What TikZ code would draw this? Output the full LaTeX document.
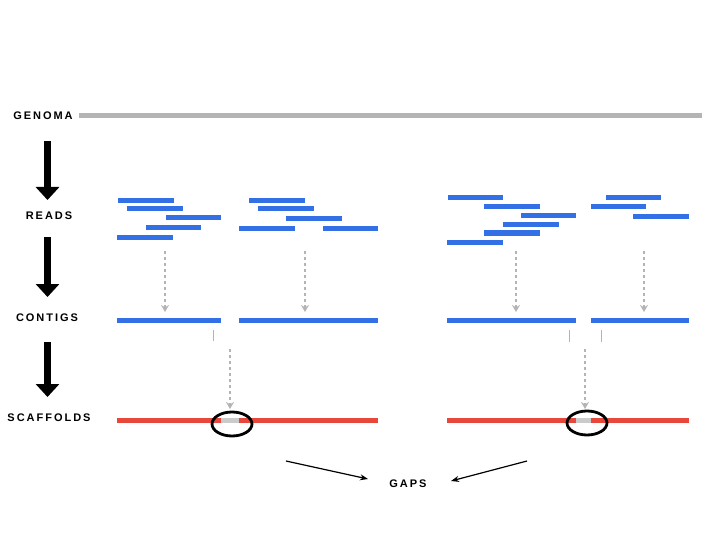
\documentclass[tikz,border=0pt]{standalone}
\usepackage{fontspec}
\setmainfont{Liberation Sans}
\newfontfamily\labfont[LetterSpace=18]{Liberation Sans}
\usetikzlibrary{arrows.meta}
\definecolor{rblue}{HTML}{3370E6}
\definecolor{rred}{HTML}{E8483C}
\definecolor{rgray}{HTML}{B4B4B4}
\definecolor{gapgray}{HTML}{CBCBCB}
\tikzset{
  lab/.style={font=\labfont\fontsize{11}{13}\selectfont\bfseries, inner sep=0pt},
  readbar/.style={draw=rblue, line width=5pt},
  scafbar/.style={draw=rred, line width=5pt},
  gapbar/.style={draw=gapgray, line width=5pt},
  bigarrow/.style={line width=6.5pt, -{Triangle[length=13pt,width=23pt]}},
  dasharrow/.style={draw=rgray, line width=1.3pt, dash pattern=on 3pt off 3pt, -{Stealth[length=7pt,width=8pt]}},
  tick/.style={draw=rgray, line width=0.9pt},
  gaparrow/.style={line width=1.2pt, -{Stealth[length=8pt,width=6pt]}},
  gapring/.style={draw=black, line width=2.8pt}
}
\begin{document}
\begin{tikzpicture}[x=1pt,y=-1pt]
\useasboundingbox (0,0) rectangle (720,540);
% labels
\node[lab] (genoma) at (43,116) {GENOMA};
\node[lab] (reads) at (49,216) {READS};
\node[lab] (contigs) at (47,318) {CONTIGS};
\node[lab] (scaffolds) at (49,418) {SCAFFOLDS};
\node[lab] (gaps) at (408,484) {GAPS};
% genome
\draw[draw=rgray, line width=5pt] (79,116) -- (702,116);
% big arrows
\draw[bigarrow] (47.5,141) -- (47.5,200);
\draw[bigarrow] (47.5,237) -- (47.5,297);
\draw[bigarrow] (47.5,342) -- (47.5,397);
% reads group 1
\draw[readbar] (118,201) -- (174,201);
\draw[readbar] (127,209) -- (183,209);
\draw[readbar] (166,218) -- (221,218);
\draw[readbar] (146,228) -- (201,228);
\draw[readbar] (117,237) -- (173,237);
% reads group 2
\draw[readbar] (249,201) -- (305,201);
\draw[readbar] (258,209) -- (314,209);
\draw[readbar] (286,219) -- (342,219);
\draw[readbar] (239,229) -- (295,229);
\draw[readbar] (323,229) -- (378,229);
% reads group 3
\draw[readbar] (448,198) -- (503,198);
\draw[readbar] (484,207) -- (540,207);
\draw[readbar] (521,216) -- (576,216);
\draw[readbar] (503,225) -- (559,225);
\draw[readbar] (484,233) -- (540,233);
\draw[readbar] (447,242) -- (503,242);
% reads group 4
\draw[readbar] (606,198) -- (661,198);
\draw[readbar] (591,207) -- (646,207);
\draw[readbar] (633,217) -- (689,217);
% dashed arrows reads -> contigs
\coordinate (r1) at (165,251); \coordinate (c1) at (165,312);
\coordinate (r2) at (305,251); \coordinate (c2) at (305,312);
\coordinate (r3) at (516,251); \coordinate (c3) at (516,312);
\coordinate (r4) at (644,251); \coordinate (c4) at (644,312);
\draw[dasharrow] (r1) -- (c1);
\draw[dasharrow] (r2) -- (c2);
\draw[dasharrow] (r3) -- (c3);
\draw[dasharrow] (r4) -- (c4);
% contigs
\draw[readbar] (117,320) -- (221,320);
\draw[readbar] (239,320) -- (378,320);
\draw[readbar] (447,320) -- (576,320);
\draw[readbar] (591,320) -- (689,320);
% ticks
\draw[tick] (213,330) -- (213,341);
\draw[tick] (569,330) -- (569,342);
\draw[tick] (601,330) -- (601,342);
% dashed arrows contigs -> scaffolds
\coordinate (g1) at (230,349); \coordinate (s1) at (230,409);
\coordinate (g2) at (585,349); \coordinate (s2) at (585,409);
\draw[dasharrow] (g1) -- (s1);
\draw[dasharrow] (g2) -- (s2);
% scaffolds
\draw[scafbar] (117,420) -- (221,420);
\draw[gapbar] (221,420) -- (239,420);
\draw[scafbar] (239,420) -- (378,420);
\draw[scafbar] (447,420) -- (576,420);
\draw[gapbar] (576,420) -- (591,420);
\draw[scafbar] (591,420) -- (689,420);
% rings
\draw[gapring] (232,424) ellipse [x radius=20, y radius=12];
\draw[gapring] (587,423) ellipse [x radius=20, y radius=12];
% gap arrows
\coordinate (a1) at (286,461);
\coordinate (a2) at (527,461);
\draw[gaparrow] (a1) -- (368,479);
\draw[gaparrow] (a2) -- (451,481);
\end{tikzpicture}
\end{document}
